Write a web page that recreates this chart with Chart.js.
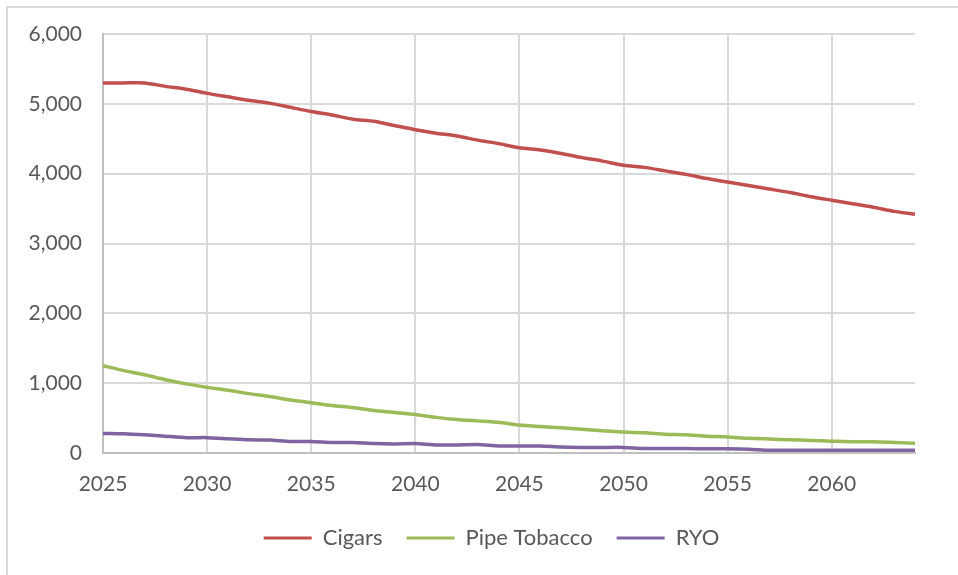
<!DOCTYPE html>
<html>
<head>
<meta charset="utf-8">
<script src="https://cdn.jsdelivr.net/npm/chart.js@4.4.1/dist/chart.umd.min.js"></script>
<style>
  html, body { margin: 0; padding: 0; background: #fff; overflow: hidden; }
  #wrap { position: relative; width: 958px; height: 575px; }
  #frame { position: absolute; left: 6px; top: 6px; width: 1200px; height: 1200px;
           border-left: 2px solid #d9d9d9; border-top: 2px solid #d9d9d9; }
  canvas { position: absolute; left: 0; top: 0; }
</style>
</head>
<body>
<div id="wrap">
  <div id="frame"></div>
  <canvas id="c" width="958" height="575"></canvas>
</div>
<script>
const years = [];
for (let y = 2025; y <= 2064; y++) years.push(String(y));

const cigars = [5300, 5300, 5300, 5250, 5210, 5150, 5100, 5050, 5010, 4950,
                4890, 4840, 4780, 4750, 4690, 4630, 4580, 4540, 4480, 4430,
                4370, 4340, 4290, 4230, 4180, 4120, 4090, 4040, 3990, 3930,
                3880, 3830, 3780, 3730, 3670, 3620, 3570, 3520, 3460, 3420];
const pipeTobacco = [1250, 1180, 1120, 1050, 990, 940, 900, 850, 810, 760,
                     720, 680, 650, 610, 580, 550, 510, 480, 460, 440,
                     400, 380, 360, 340, 320, 300, 290, 270, 260, 240,
                     230, 210, 200, 190, 180, 170, 160, 160, 150, 140];
const ryo = [280, 275, 260, 240, 220, 220, 205, 190, 185, 165,
             165, 150, 150, 135, 130, 135, 115, 115, 120, 100,
             100, 100, 85, 80, 80, 80, 65, 65, 65, 60,
             60, 55, 40, 40, 40, 40, 40, 40, 40, 40];
const yTicks = [0, 1000, 2000, 3000, 4000, 5000, 6000];

const FONT = 'Lato, "Open Sans", sans-serif';
const TXT = '#595959';
const GRID = '#d9d9d9';

const shiftLegend = {
  id: 'shiftLegend',
  afterLayout(chart) {
    if (chart.legend) { chart.legend.left += 24; chart.legend.right += 24; }
  }
};

function draw() {
  new Chart(document.getElementById('c'), {
    type: 'line',
    plugins: [shiftLegend],
    data: {
      labels: years,
      datasets: [
        { label: 'Cigars', data: cigars, borderColor: '#c0504d', backgroundColor: '#c0504d' },
        { label: 'Pipe Tobacco', data: pipeTobacco, borderColor: '#9bbb59', backgroundColor: '#9bbb59' },
        { label: 'RYO', data: ryo, borderColor: '#8064a2', backgroundColor: '#8064a2' }
      ]
    },
    options: {
      responsive: false,
      animation: false,
      layout: { padding: { left: 20, right: 43, top: 34, bottom: 16 } },
      elements: {
        line: { borderWidth: 3.5, tension: 0.2, borderCapStyle: 'butt' },
        point: { radius: 0, hoverRadius: 0 }
      },
      plugins: {
        tooltip: { enabled: false },
        legend: {
          position: 'bottom',
          labels: {
            font: { family: FONT, size: 22 },
            color: TXT,
            boxWidth: 48,
            boxHeight: 3,
            padding: 24,
            generateLabels: (chart) => chart.data.datasets.map((ds, i) => ({
              text: ds.label, fillStyle: ds.borderColor, strokeStyle: ds.borderColor,
              lineWidth: 0, hidden: false, datasetIndex: i, fontColor: TXT
            }))
          }
        }
      },
      scales: {
        x: {
          type: 'category',
          offset: false,
          afterFit: (s) => { s.height = 50; },
          border: { color: '#bfbfbf', width: 2 },
          grid: {
            drawTicks: false,
            lineWidth: 2,
            color: (ctx) => (ctx.tick && Number(years[ctx.index]) % 5 === 0) ? GRID : 'rgba(0,0,0,0)'
          },
          ticks: {
            autoSkip: false,
            maxRotation: 0,
            padding: 19,
            color: TXT,
            font: { family: FONT, size: 21 },
            callback: function (v, i) { const y = Number(years[i]); return y % 5 === 0 ? years[i] : ''; }
          }
        },
        y: {
          min: 0,
          max: 6000,
          afterFit: (s) => { s.width = 83; },
          afterBuildTicks: (s) => { s.ticks = yTicks.map(v => ({ value: v })); },
          border: { color: '#bfbfbf', width: 2 },
          grid: { drawTicks: false, lineWidth: 2, color: GRID },
          ticks: {
            padding: 21,
            color: TXT,
            font: { family: FONT, size: 21 },
            callback: (v) => v.toLocaleString('en-US')
          }
        }
      }
    }
  });
}

if (document.fonts && document.fonts.load) {
  Promise.all([document.fonts.load('21px Lato'), document.fonts.load('22px Lato')]).then(draw, draw);
} else {
  draw();
}
</script>
</body>
</html>
